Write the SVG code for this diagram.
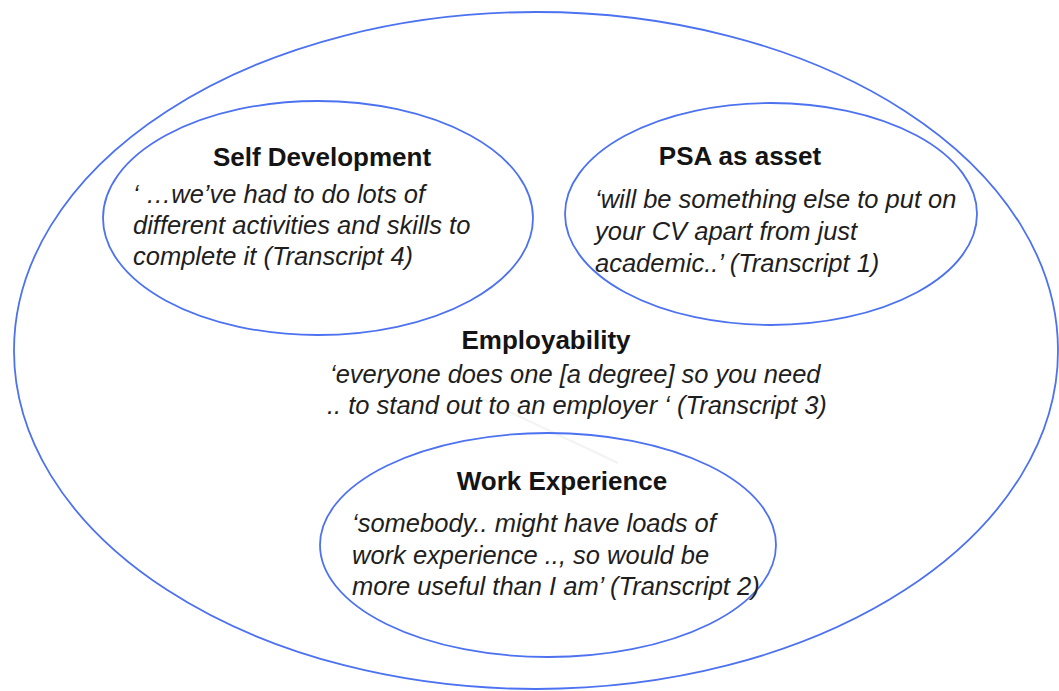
<svg xmlns="http://www.w3.org/2000/svg" width="1059" height="691" viewBox="0 0 1059 691">
<style>
.ell{fill:none;stroke:#4d72f0;stroke-width:1.8}
.h{font-family:"Liberation Sans",Arial,sans-serif;font-weight:bold;font-size:26px;fill:#141414;text-anchor:middle}
.q{font-family:"Liberation Sans",Arial,sans-serif;font-style:italic;font-size:25.5px;fill:#1e1e1e}
.faint{stroke:#f3f3f3;stroke-width:2;fill:none}
</style>
<rect width="1059" height="691" fill="#ffffff"/>
<g id="connectors">
<line class="faint" x1="480" y1="398" x2="618" y2="463"/>
</g>
<g id="employability">
<ellipse class="ell" cx="536" cy="350.5" rx="522" ry="338.5"/>
<text class="h" x="546" y="349">Employability</text>
<text class="q" x="330" y="383">‘everyone does one [a degree] so you need</text>
<text class="q" x="327" y="414">.. to stand out to an employer ‘ (Transcript 3)</text>
</g>
<g id="self-development">
<ellipse class="ell" cx="318" cy="218" rx="215" ry="117"/>
<text class="h" x="322" y="166">Self Development</text>
<text class="q" x="133" y="203">‘ …we’ve had to do lots of</text>
<text class="q" x="133" y="234">different activities and skills to</text>
<text class="q" x="133" y="265">complete it (Transcript 4)</text>
</g>
<g id="psa-as-asset">
<ellipse class="ell" cx="771" cy="214" rx="206" ry="111"/>
<text class="h" x="740" y="165">PSA as asset</text>
<text class="q" x="595" y="208">‘will be something else to put on</text>
<text class="q" x="595" y="240">your CV apart from just</text>
<text class="q" x="595" y="272">academic..’ (Transcript 1)</text>
</g>
<g id="work-experience">
<ellipse class="ell" cx="548" cy="545" rx="228" ry="112"/>
<text class="h" x="562" y="490">Work Experience</text>
<text class="q" x="352" y="532">‘somebody.. might have loads of</text>
<text class="q" x="352" y="564">work experience .., so would be</text>
<text class="q" x="352" y="595">more useful than I am’ (Transcript 2)</text>
</g>
</svg>
